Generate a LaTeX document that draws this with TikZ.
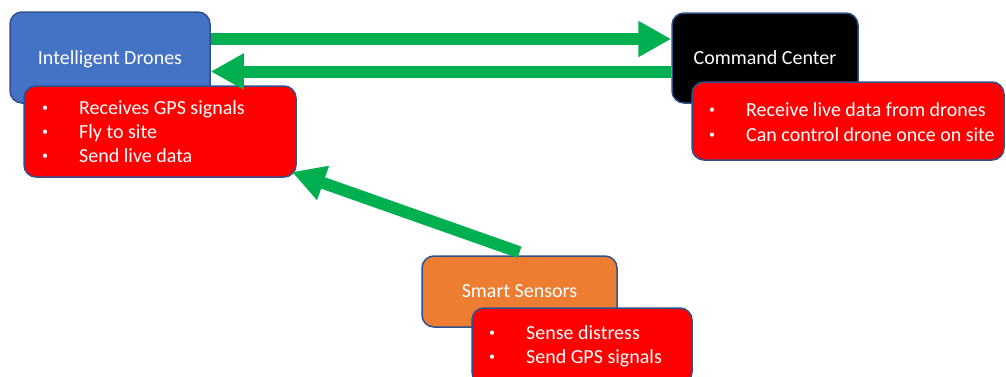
\documentclass[tikz,border=0pt]{standalone}
\usepackage{fontspec}
\setmainfont{Carlito}
\usetikzlibrary{arrows.meta}
\definecolor{boxblue}{HTML}{4472C4}
\definecolor{boxorange}{HTML}{ED7D31}
\definecolor{boxred}{HTML}{FF0000}
\definecolor{edgeblue}{HTML}{2F528F}
\definecolor{arrowgreen}{HTML}{00B050}
\newcommand{\mybul}{\makebox[39pt][l]{\makebox[10pt][c]{\raisebox{2.5pt}{\fontsize{12}{12}\selectfont\textbullet}}}}
\begin{document}
\begin{tikzpicture}[x=1pt,y=-1pt,
  box/.style={draw=edgeblue, line width=1.5pt, rounded corners=12pt, text=white,
    font=\fontsize{20}{24}\selectfont, inner sep=0pt, text depth=0pt},
  item/.style={anchor=base west, inner sep=0pt, text=white, font=\fontsize{20}{24}\selectfont},
  arr/.style={draw=arrowgreen, line width=12pt,
    -{Triangle[width=34pt,length=33pt]}}
]
\useasboundingbox (0,0) rectangle (1006,376);
% main boxes
\node[box, fill=boxblue, minimum width=200pt, minimum height=91pt] (drones) at (110,57.5) {Intelligent Drones};
\node[box, fill=black, minimum width=186pt, minimum height=90pt] (cmd) at (765,58) {Command Center};
\node[box, fill=boxorange, minimum width=195pt, minimum height=71pt] (sensors) at (519.5,291.5) {Smart Sensors};
% red detail boxes
\node[box, fill=boxred, minimum width=272pt, minimum height=91pt] (red1) at (160,131.5) {};
\node[box, fill=boxred, minimum width=312pt, minimum height=78pt] (red2) at (848,121) {};
\node[box, fill=boxred, minimum width=220pt, minimum height=76pt] (red3) at (582,346) {};
% list items
\node[item] (d1) at (40,114) {\mybul Receives GPS signals};
\node[item] (d2) at (40,138) {\mybul Fly to site};
\node[item] (d3) at (40,162) {\mybul Send live data};
\node[item] (c1) at (707,116) {\mybul Receive live data from drones};
\node[item] (c2) at (707,141) {\mybul Can control drone once on site};
\node[item] (s1) at (487,339) {\mybul Sense distress};
\node[item] (s2) at (487,363) {\mybul Send GPS signals};
% connectors
\coordinate (tipdiag) at (292,172);
\draw[arr] ([yshift=18.5pt]drones.east) -- ([yshift=19pt]cmd.west);
\draw[arr] ([yshift=-13.5pt]cmd.west) -- ([yshift=-14pt]drones.east);
\draw[arr] ([yshift=3pt]sensors.north) -- (tipdiag);
\end{tikzpicture}
\end{document}
